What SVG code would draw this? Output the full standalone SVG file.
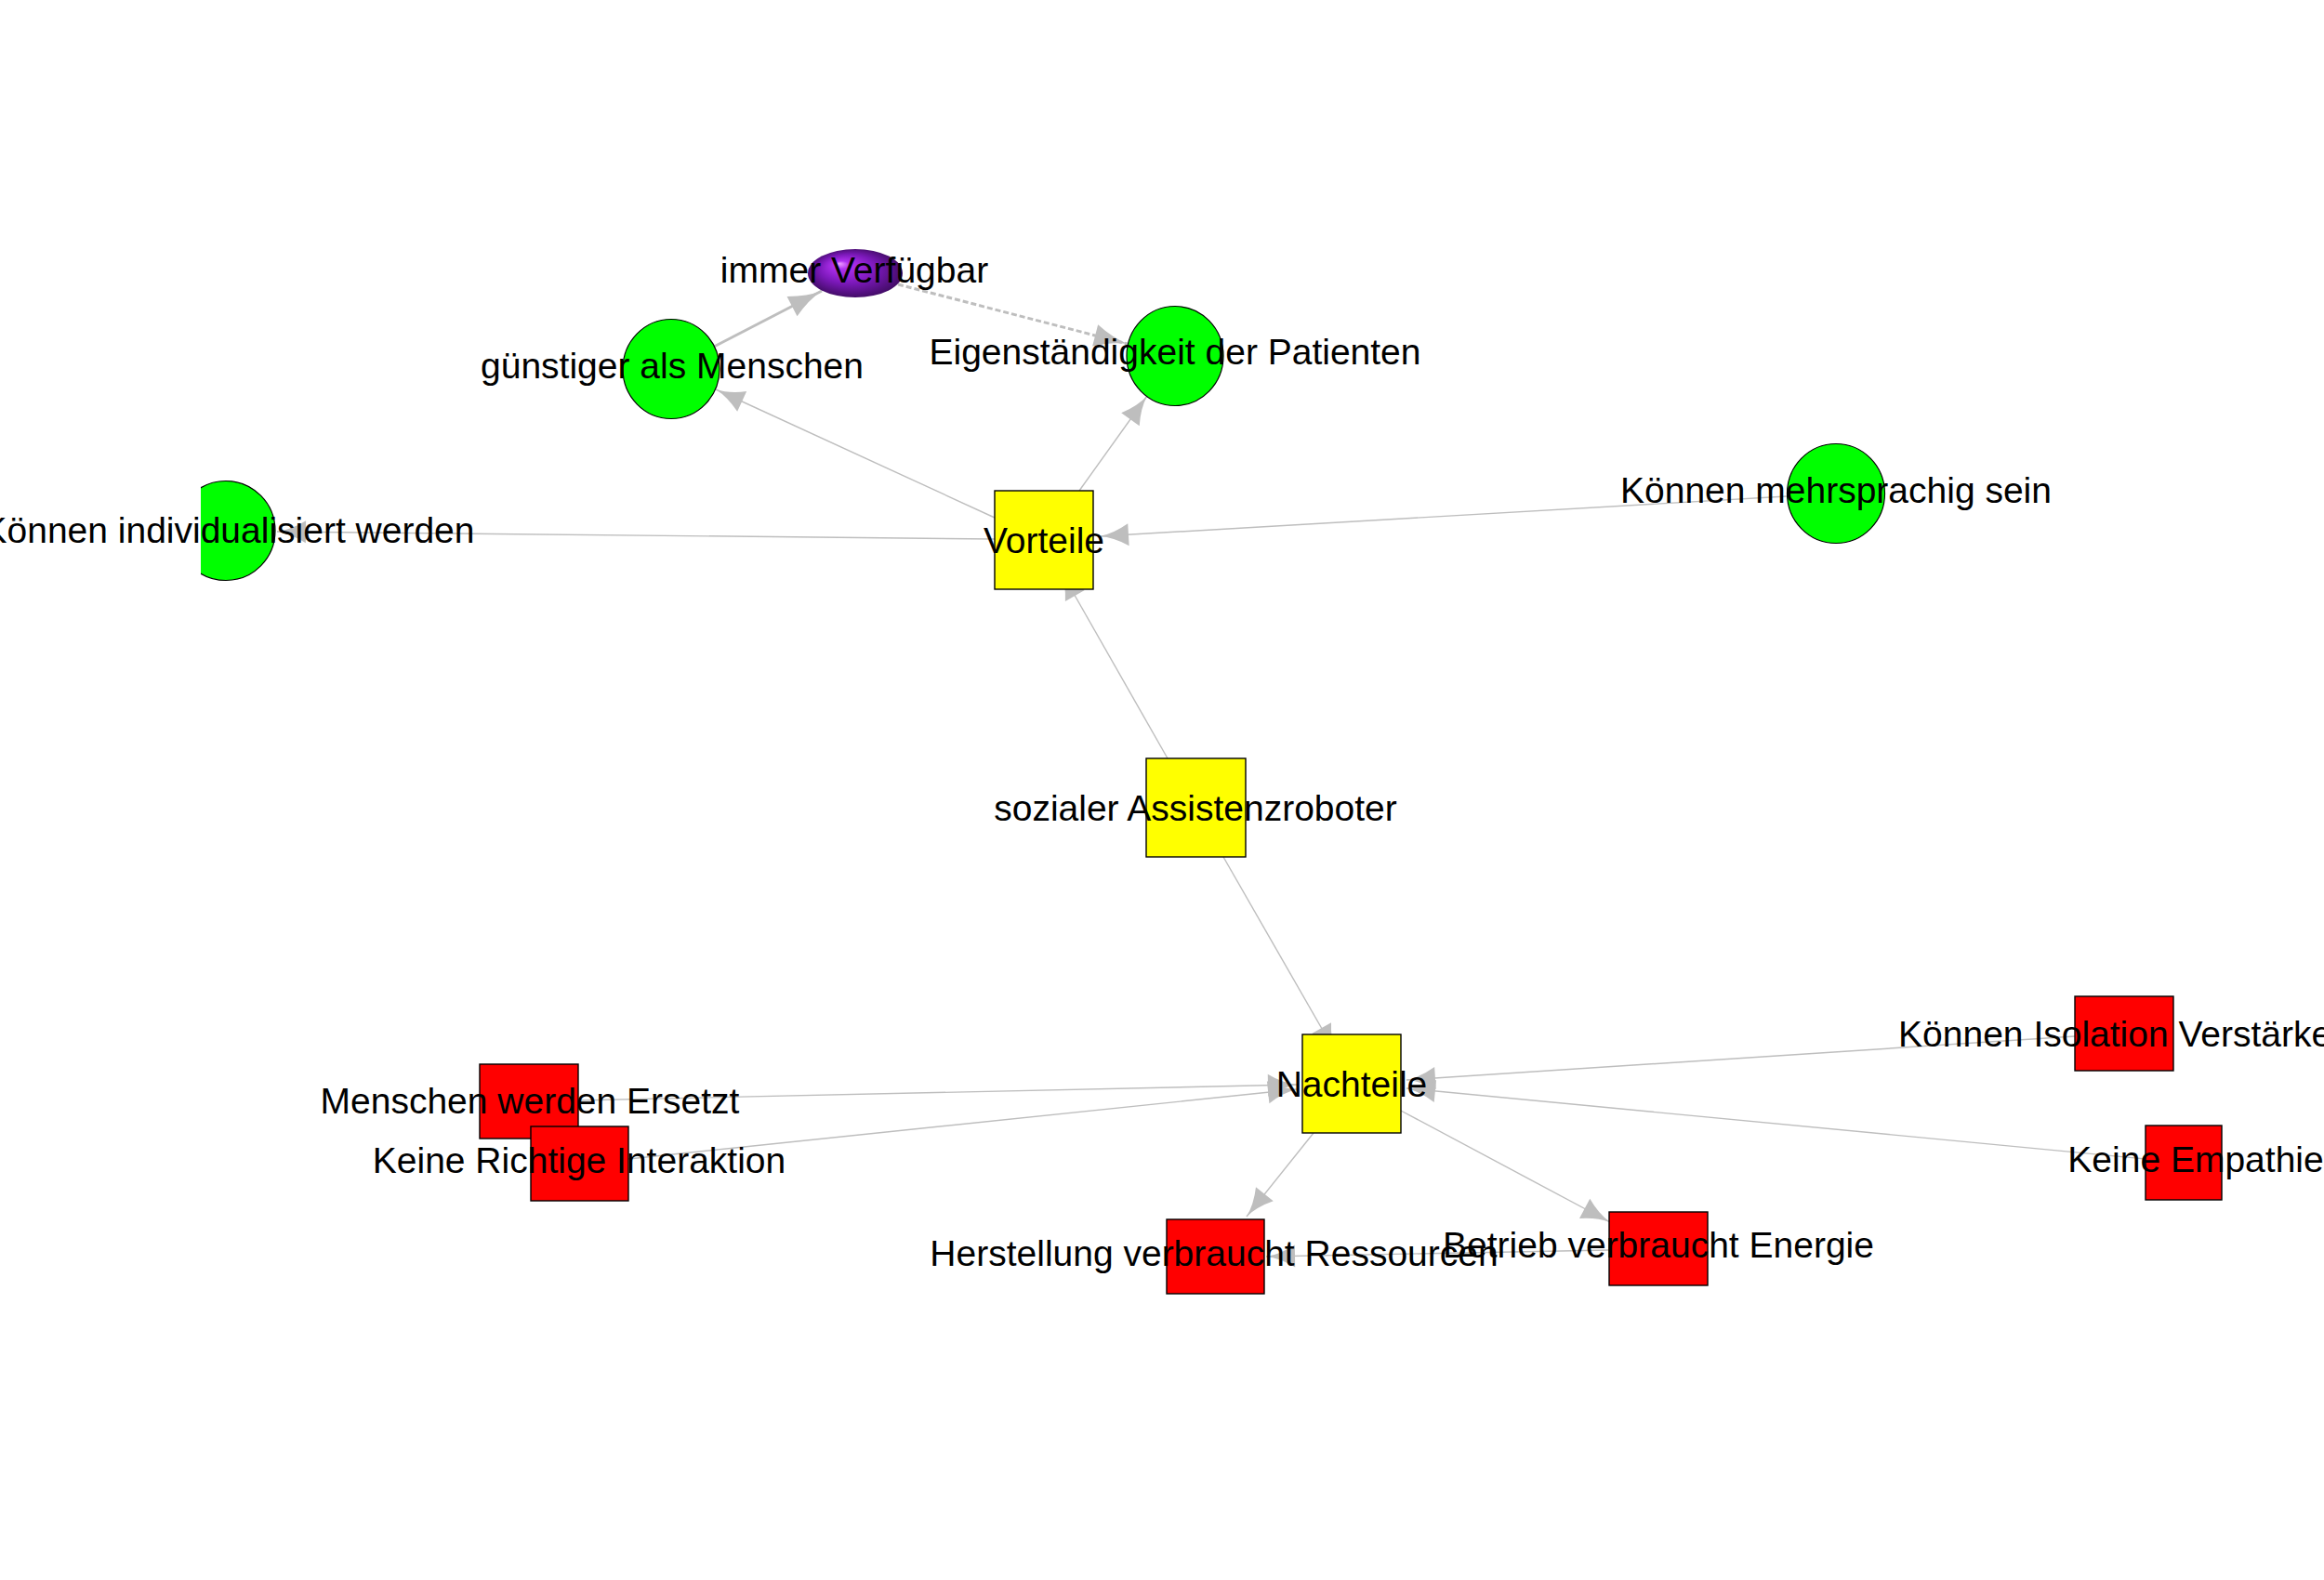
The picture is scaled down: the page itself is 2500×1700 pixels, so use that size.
<svg xmlns="http://www.w3.org/2000/svg" width="2500" height="1700" viewBox="0 0 2500 1700">
<style>
.edge{stroke:#bebebe;stroke-width:1.4;fill:none;marker-end:url(#arr)}
.thick{stroke:#bebebe;stroke-width:3;fill:none;marker-end:url(#arrBig)}
.dash{stroke-dasharray:6 3}
.g{fill:#00ff00;stroke:#000;stroke-width:1.2}
.y{fill:#ffff00;stroke:#000;stroke-width:1.4}
.r{fill:#ff0000;stroke:#000;stroke-width:1.4}
text{font-family:"Liberation Sans",Arial,sans-serif;font-size:39px;fill:#000;text-anchor:middle}
</style>
<defs>
<marker id="arr" markerUnits="userSpaceOnUse" viewBox="0 0 33 26" refX="32" refY="13" markerWidth="33" markerHeight="26" orient="auto">
<path d="M32,13 Q17,11 1,1 L1,25 Q17,15 32,13 Z" fill="#bebebe"/>
</marker>
<marker id="arrBig" markerUnits="userSpaceOnUse" viewBox="0 0 38 26" refX="37" refY="13" markerWidth="38" markerHeight="26" orient="auto">
<path d="M37,13 Q20,11 1,1 L1,25 Q20,15 37,13 Z" fill="#bebebe"/>
</marker>
<radialGradient id="purple" cx="0.5" cy="0.5" r="0.55" fx="0.33" fy="0.3">
<stop offset="0" stop-color="#f0a0ff"/>
<stop offset="0.15" stop-color="#b030f0"/>
<stop offset="0.55" stop-color="#7a18b8"/>
<stop offset="1" stop-color="#3a0a5a"/>
</radialGradient>
<clipPath id="clipL"><rect x="216" y="0" width="2284" height="1700"/></clipPath>
</defs>
<rect width="2500" height="1700" fill="#ffffff"/>
<g id="edges">
<line class="thick" x1="768" y1="373" x2="884" y2="313"/>
<line class="thick dash" x1="966" y1="306" x2="1213" y2="370"/>
<line class="edge" x1="1070" y1="557" x2="770" y2="419"/>
<line class="edge" x1="1161" y1="528" x2="1234" y2="426"/>
<line class="edge" x1="1070" y1="580" x2="298" y2="572"/>
<line class="edge" x1="1922" y1="534" x2="1183" y2="577"/>
<line class="edge" x1="1256" y1="816" x2="1141" y2="614"/>
<line class="edge" x1="1316" y1="922" x2="1437" y2="1133"/>
<line class="edge" x1="622" y1="1184" x2="1395" y2="1167"/>
<line class="edge" x1="676" y1="1247" x2="1395" y2="1172"/>
<line class="edge" x1="2232" y1="1115" x2="1513" y2="1162"/>
<line class="edge" x1="2308" y1="1247" x2="1513" y2="1171"/>
<line class="edge" x1="1413" y1="1219" x2="1341" y2="1309"/>
<line class="edge" x1="1507" y1="1195" x2="1732" y2="1315"/>
<line class="edge" x1="1731" y1="1345" x2="1362" y2="1352"/>
</g>
<g id="node-immer"><ellipse cx="920" cy="294" rx="51" ry="26" fill="url(#purple)"/></g>
<g id="node-guenstiger"><ellipse class="g" cx="722" cy="397" rx="52" ry="53.5"/></g>
<g id="node-eigen"><ellipse class="g" cx="1264" cy="383" rx="52" ry="53.5"/></g>
<g id="node-individualisiert"><ellipse class="g" cx="243" cy="571" rx="53" ry="53.5" clip-path="url(#clipL)"/></g>
<g id="node-mehrsprachig"><ellipse class="g" cx="1975" cy="531" rx="52.5" ry="53.5"/></g>
<g id="node-vorteile"><rect class="y" x="1070" y="528" width="106" height="106"/></g>
<g id="node-sozialer"><rect class="y" x="1233" y="816" width="107" height="106"/></g>
<g id="node-nachteile"><rect class="y" x="1401" y="1113" width="106" height="106"/></g>
<g id="node-menschen"><rect class="r" x="516" y="1145" width="106" height="80"/></g>
<g id="node-interaktion"><rect class="r" x="571" y="1212" width="105" height="80"/></g>
<g id="node-herstellung"><rect class="r" x="1255" y="1312" width="105" height="80"/></g>
<g id="node-betrieb"><rect class="r" x="1731" y="1304" width="106" height="79"/></g>
<g id="node-isolation"><rect class="r" x="2232" y="1072" width="106" height="80"/></g>
<g id="node-empathie"><rect class="r" x="2308" y="1211" width="82" height="80"/></g>
<g id="labels">
<text x="919" y="304">immer Verfügbar</text>
<text x="723" y="407">günstiger als Menschen</text>
<text x="1264" y="392">Eigenständigkeit der Patienten</text>
<text x="1123" y="595">Vorteile</text>
<text x="246" y="584">Können individualisiert werden</text>
<text x="1975" y="541">Können mehrsprachig sein</text>
<text x="1286" y="883">sozialer Assistenzroboter</text>
<text x="1454" y="1180">Nachteile</text>
<text x="570" y="1198">Menschen werden Ersetzt</text>
<text x="623" y="1262">Keine Richtige Interaktion</text>
<text x="1306" y="1362">Herstellung verbraucht Ressourcen</text>
<text x="1784" y="1353">Betrieb verbraucht Energie</text>
<text x="2286" y="1126">Können Isolation Verstärken</text>
<text x="2362" y="1261">Keine Empathie</text>
</g>
</svg>
